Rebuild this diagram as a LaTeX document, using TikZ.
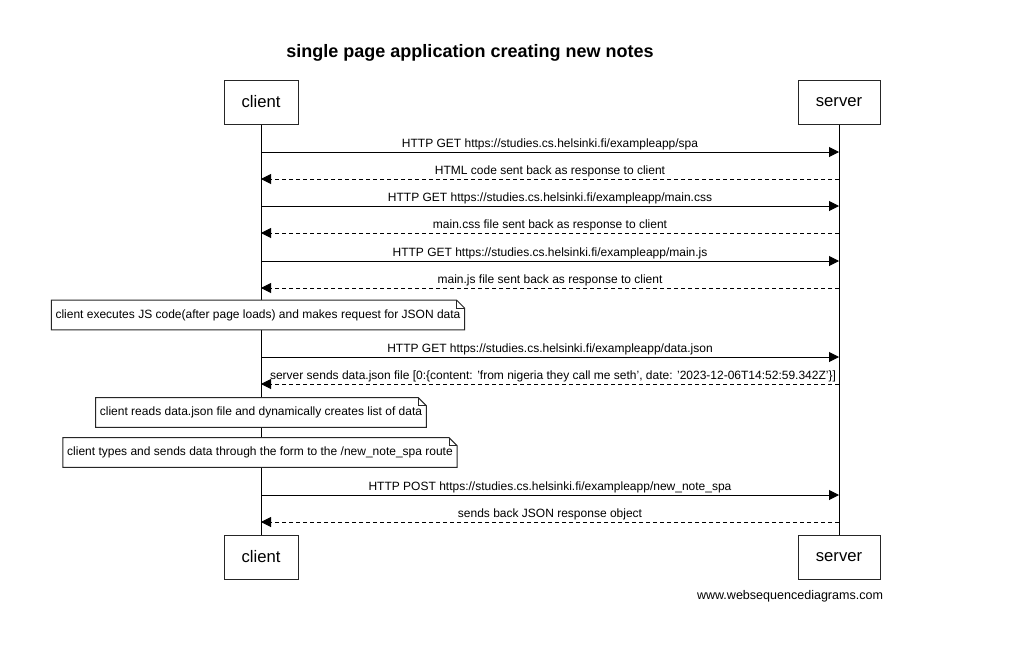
\documentclass[tikz,border=0pt]{standalone}
\usepackage{fontspec}
\setmainfont{Liberation Sans}
\usetikzlibrary{arrows.meta}
\begin{document}
\begin{tikzpicture}[x=0.75pt,y=-0.75pt,
  actor/.style={draw=black!85,line width=0.75pt,fill=white,minimum width=74*0.75pt,minimum height=44*0.75pt,inner sep=0pt,font=\fontsize{12.5pt}{14pt}\selectfont},
  msglabel/.style={font=\fontsize{9pt}{10pt}\selectfont,inner sep=0pt,anchor=base},
  req/.style={line width=0.75pt,-{Triangle[length=7.5pt,width=7.5pt]}},
  resp/.style={line width=0.75pt,dash pattern=on 3pt off 2.25pt,-{Triangle[length=7.5pt,width=7.5pt]}},
  notetext/.style={font=\fontsize{9pt}{10pt}\selectfont,inner xsep=3pt,inner ysep=0pt,minimum height=29*0.75pt},
  noteframe/.style={draw=black!85,line width=0.75pt,fill=white},
  life/.style={line width=0.75pt}
]
\useasboundingbox (0,0) rectangle (1028,646);
\fill[white] (0,0) rectangle (1028,646);

\node[font=\bfseries\fontsize{13.5pt}{15pt}\selectfont] (title) at (470,53) {single page application creating new notes};

\node[actor] (ctop) at (261,102) {client};
\node[actor,minimum width=82*0.75pt] (stop) at (839,102) {server};
\node[actor] (cbot) at (261,557) {client};
\node[actor,minimum width=82*0.75pt] (sbot) at (839,557) {server};

\draw[life] (ctop.south) -- (cbot.north);
\draw[life] (stop.south) -- (sbot.north);

% message coordinates
\foreach \n/\y in {1/152,2/179,3/206,4/233,5/261,6/288,7/357,8/384,9/495,10/522}{
  \coordinate (c\n) at (261,\y);
  \coordinate (s\n) at (839,\y);
}

\draw[req] (c1) -- (s1);
\node[msglabel] (l1) at (550,147) {HTTP GET https://studies.cs.helsinki.fi/exampleapp/spa};
\draw[resp] (s2) -- (c2);
\node[msglabel] (l2) at (550,174) {HTML code sent back as response to client};
\draw[req] (c3) -- (s3);
\node[msglabel] (l3) at (550,201) {HTTP GET https://studies.cs.helsinki.fi/exampleapp/main.css};
\draw[resp] (s4) -- (c4);
\node[msglabel] (l4) at (550,228) {main.css file sent back as response to client};
\draw[req] (c5) -- (s5);
\node[msglabel] (l5) at (550,256) {HTTP GET https://studies.cs.helsinki.fi/exampleapp/main.js};
\draw[resp] (s6) -- (c6);
\node[msglabel] (l6) at (550,283) {main.js file sent back as response to client};

\draw[req] (c7) -- (s7);
\node[msglabel] (l7) at (550,352) {HTTP GET https://studies.cs.helsinki.fi/exampleapp/data.json};
\draw[resp] (s8) -- (c8);
\node[msglabel] (l8) at (553,379) {server sends data.json file [0:\{content: 'from nigeria they call me seth', date: '2023-12-06T14:52:59.342Z'\}]};

\draw[req] (c9) -- (s9);
\node[msglabel] (l9) at (550,490) {HTTP POST https://studies.cs.helsinki.fi/exampleapp/new\_note\_spa};
\draw[resp] (s10) -- (c10);
\node[msglabel] (l10) at (550,517) {sends back JSON response object};

% notes: invisible placeholder nodes, then frame, then text
\node[notetext] (n1) at (258,315) {\phantom{client executes JS code(after page loads) and makes request for JSON data}};
\node[notetext] (n2) at (261,412.5) {\phantom{client reads data.json file and dynamically creates list of data}};
\node[notetext] (n3) at (260,452.5) {\phantom{client types and sends data through the form to the /new\_note\_spa route}};
\foreach \nn in {n1,n2,n3}{
  \path[noteframe] (\nn.north west) -- ([xshift=-6pt]\nn.north east) -- ([yshift=-6pt]\nn.north east) -- (\nn.south east) -- (\nn.south west) -- cycle;
  \draw[draw=black!85,line width=0.75pt] ([xshift=-6pt]\nn.north east) -- ([xshift=-6pt,yshift=-6pt]\nn.north east) -- ([yshift=-6pt]\nn.north east);
}
\node[notetext] at (n1) {client executes JS code(after page loads) and makes request for JSON data};
\node[notetext] at (n2) {client reads data.json file and dynamically creates list of data};
\node[notetext] at (n3) {client types and sends data through the form to the /new\_note\_spa route};

\node[font=\fontsize{9.4pt}{11pt}\selectfont] (footer) at (790,596) {www.websequencediagrams.com};
\end{tikzpicture}
\end{document}
